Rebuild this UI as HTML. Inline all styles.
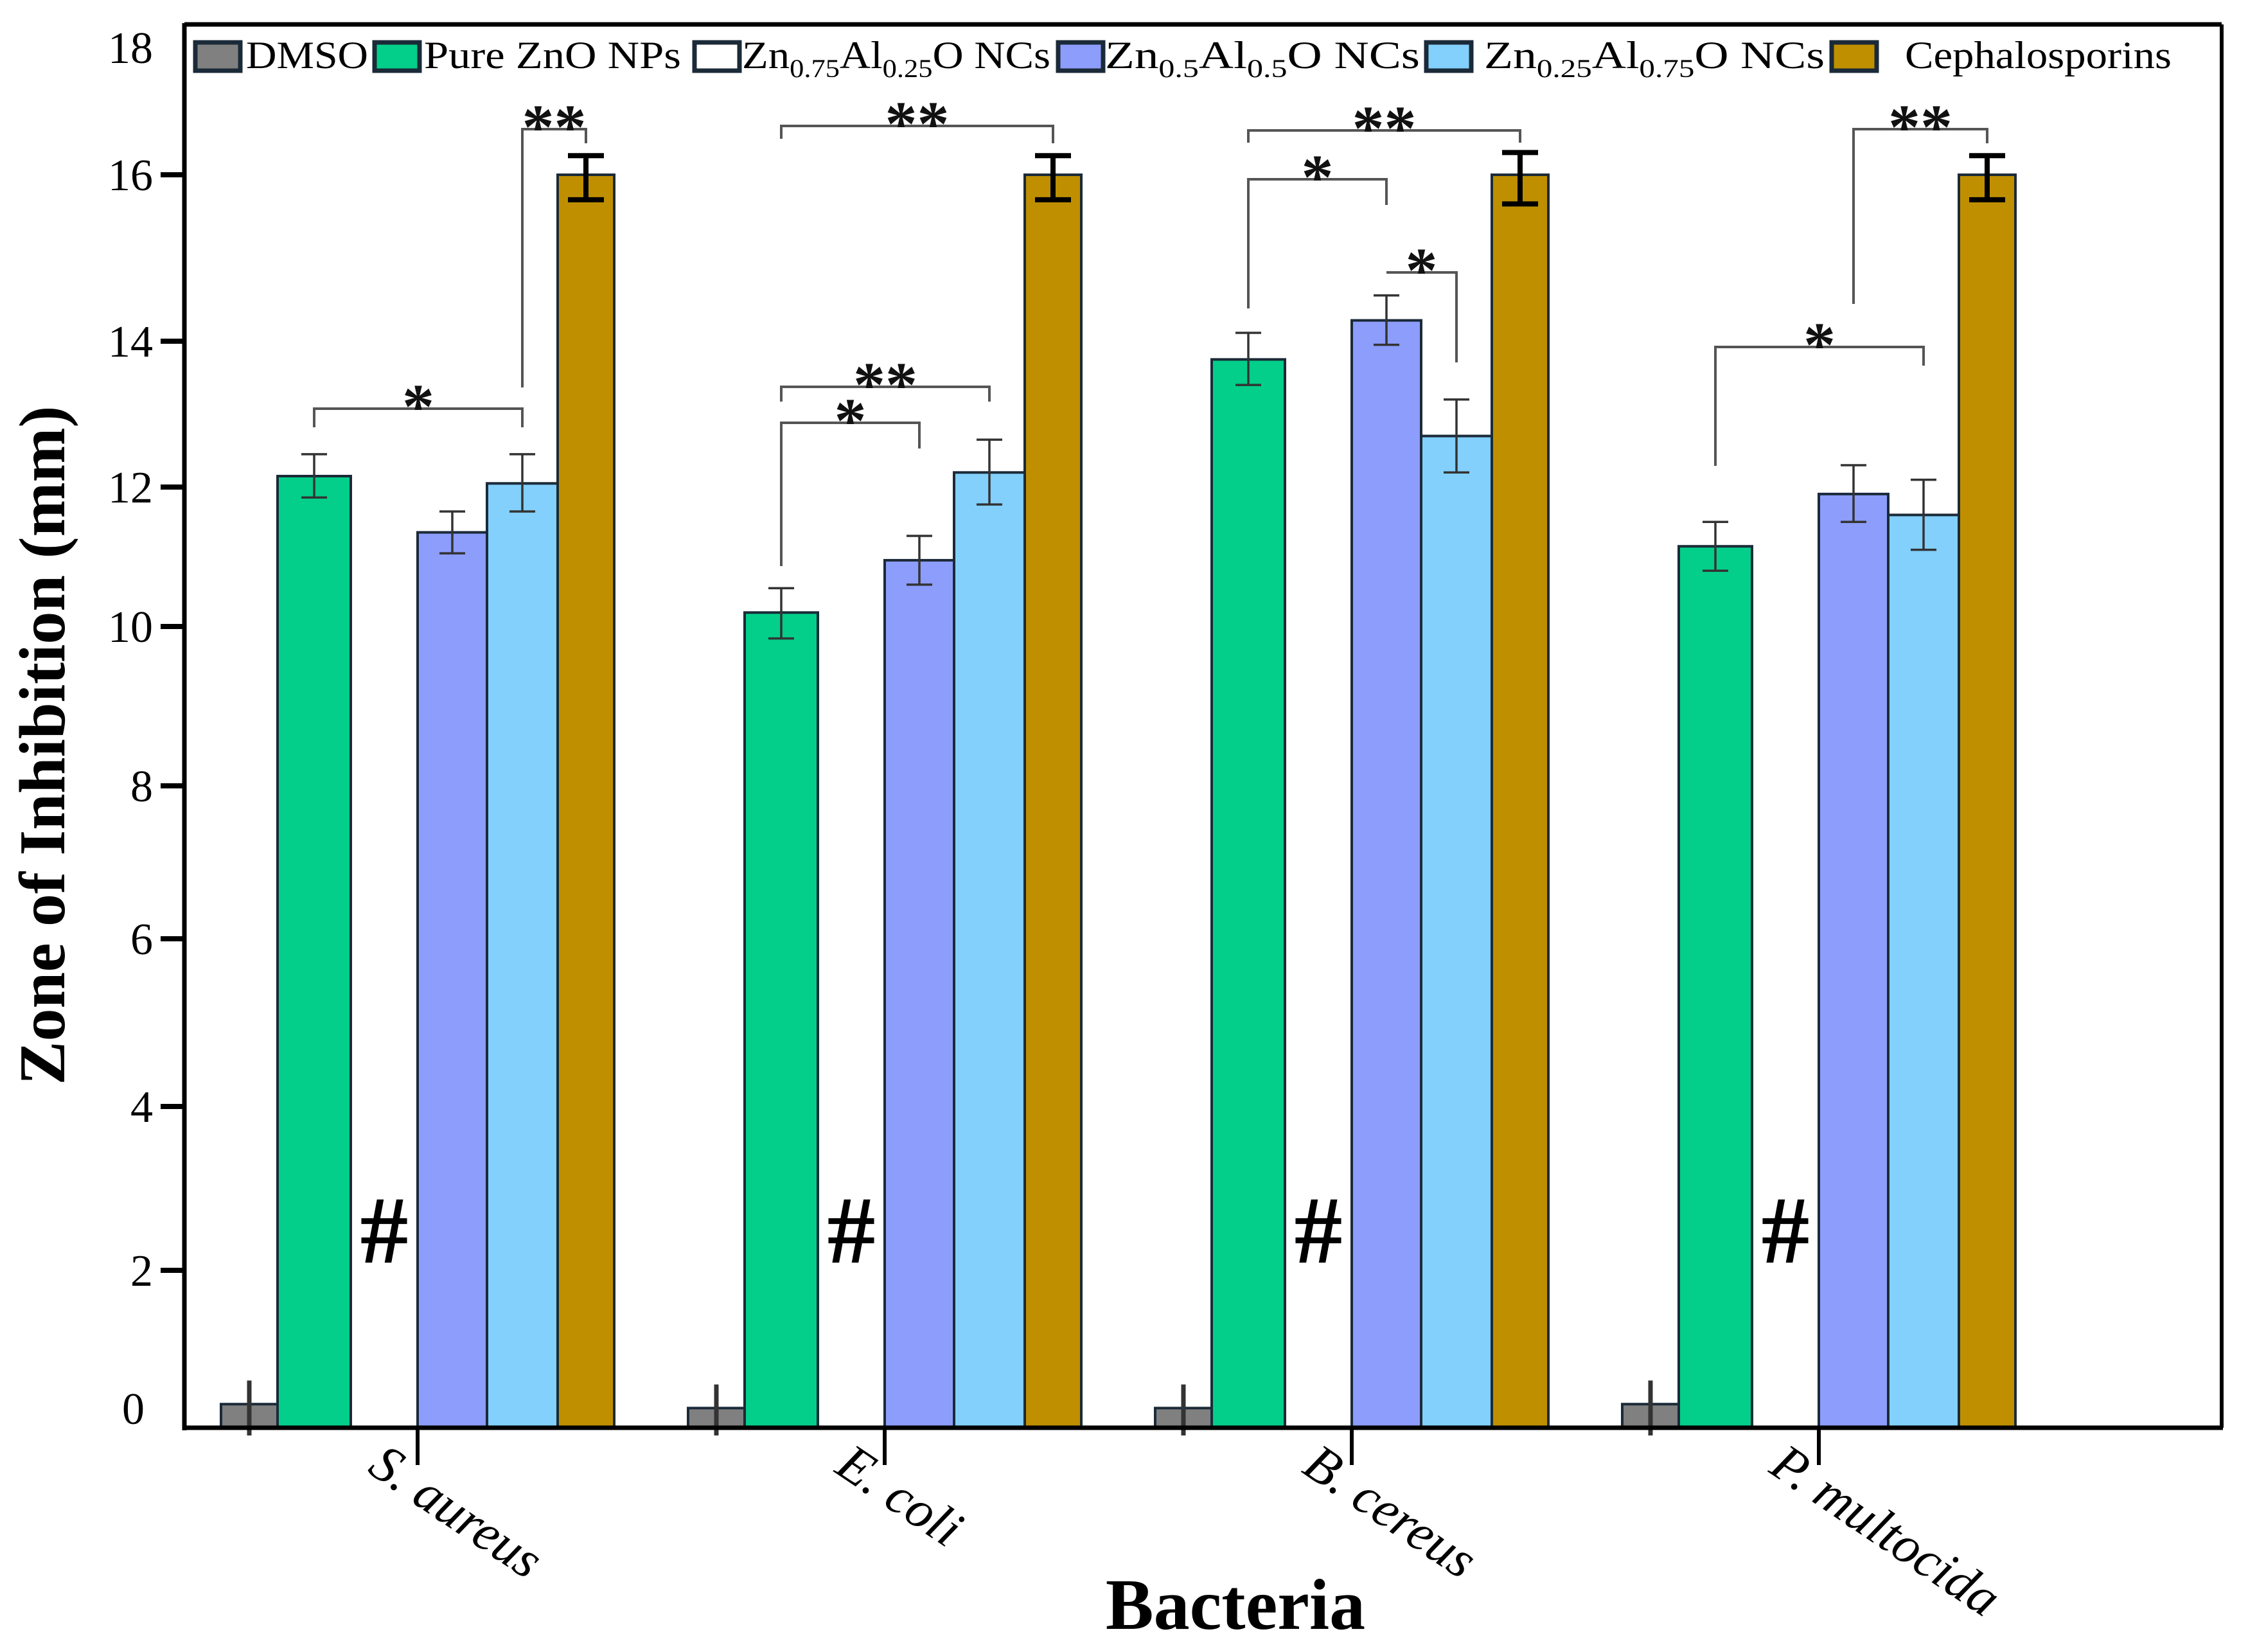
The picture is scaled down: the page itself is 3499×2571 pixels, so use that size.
<!DOCTYPE html>
<html><head><meta charset="utf-8"><style>
html,body{margin:0;padding:0;background:#fff;}
svg{display:block;}
text{font-family:"Liberation Serif",serif;}
</style></head><body>
<svg id="chart" width="3499" height="2571" viewBox="0 0 3499 2571" xmlns="http://www.w3.org/2000/svg">
<g id="plot"></g>
</svg>
<script>
const categories = ["S. aureus", "E. coli", "B. cereus", "P. multocida"];
const seriesNames = ["DMSO", "Pure ZnO NPs", "Zn0.75Al0.25O NCs", "Zn0.5Al0.5O NCs", "Zn0.25Al0.75O NCs", "Cephalosporins"];
const dmso = [0.3, 0.25, 0.25, 0.3];
const pureZnO = [12.15, 10.2, 13.75, 11.15];
const zn075 = [0, 0, 0, 0];
const zn05 = [11.35, 10.95, 14.25, 11.9];
const zn025 = [12.05, 12.2, 12.7, 11.6];
const cepha = [16, 16, 16, 16];
const dmsoErr = [0.3, 0.3, 0.3, 0.3];
const pureZnOErr = [0.3, 0.35, 0.35, 0.35];
const zn075Err = [0, 0, 0, 0];
const zn05Err = [0.3, 0.35, 0.3, 0.4];
const zn025Err = [0.4, 0.45, 0.5, 0.5];
const cephaErr = [0.3, 0.3, 0.35, 0.3];
const yTickLabels = ["0","2","4","6","8","10","12","14","16","18"];
const yTickValues = [0,2,4,6,8,10,12,14,16,18];

const svg = document.getElementById('chart');
const plot = document.getElementById('plot');
const NS = "http://www.w3.org/2000/svg";
const axisCalibV = [0,2,4,6,8,10,12,14,16,18];
const axisCalibY = [2222,1977,1722,1461,1223,975,758,531,272,74];
function yScale(v){
  for(let i=0;i<axisCalibV.length-1;i++){
    if(v<=axisCalibV[i+1]||i===axisCalibV.length-2){
      const t=(v-axisCalibV[i])/(axisCalibV[i+1]-axisCalibV[i]);
      return axisCalibY[i]+t*(axisCalibY[i+1]-axisCalibY[i]);
    }
  }
}
const groupStart=650, groupStep=727;
function xGroup(i){return groupStart+i*groupStep;}
const slotL=[-306,-218,-104,0,108,218];
const slotR=[-218,-104,0,108,218,306];
function slotCenter(g,s){return xGroup(g)+(slotL[s]+slotR[s])/2;}
function el(tag,attrs,parent){const e=document.createElementNS(NS,tag);for(const k in attrs)e.setAttribute(k,attrs[k]);(parent||plot).appendChild(e);return e;}

const colors=["#808080","#03cf8a","#ffffff","#8c9dfb","#82d0fb","#bf8f00"];
const allVals=[dmso,pureZnO,zn075,zn05,zn025,cepha];
const allErr=[dmsoErr,pureZnOErr,zn075Err,zn05Err,zn025Err,cephaErr];
const base=yScale(0);

let f=el('line',{x1:287,y1:38,x2:3458,y2:38,stroke:'#000','stroke-width':7});


f=el('line',{x1:3458,y1:38,x2:3458,y2:base,stroke:'#000','stroke-width':6});



for(let s=0;s<6;s++){
  for(let g=0;g<categories.length;g++){
    const v=allVals[s][g];
    if(v<=0) continue;
    const x=xGroup(g)+slotL[s], w=slotR[s]-slotL[s];
    const y=yScale(v);
    const r=el('rect',{x:x,y:y,width:w,height:base-y,fill:colors[s],stroke:'#1b2a38','stroke-width':4});
    
    
  }
}
for(let s=0;s<6;s++){
  for(let g=0;g<categories.length;g++){
    const v=allVals[s][g], e=allErr[s][g];
    if(v<=0) continue;
    const cx=slotCenter(g,s);
    const thick=(s===5)?8:3.5, cap=(s===5)?28:20, col=(s===5)?'#000':'#333';
    const gg=el('g',{stroke:col,'stroke-width':(s===0?7:thick)});
    
    
    const yt=yScale(v+e), yb=Math.min(yScale(v-e),base);
    el('line',{x1:cx,y1:yt,x2:cx,y2:(s===0?base+12:yb)},gg);
    if(s!==0){
      el('line',{x1:cx-cap,y1:yt,x2:cx+cap,y2:yt},gg);
      el('line',{x1:cx-cap,y1:yb,x2:cx+cap,y2:yb},gg);
    }
  }
}
let a=el('line',{x1:287,y1:36,x2:287,y2:base+4,stroke:'#000','stroke-width':7});


a=el('line',{x1:284,y1:base,x2:3460,y2:base,stroke:'#000','stroke-width':7});


for(let i=0;i<yTickValues.length;i++){
  const y=yScale(yTickValues[i]);
  if(yTickValues[i]>0&&yTickValues[i]<18){
    const t=el('line',{x1:250,y1:y,x2:287,y2:y,stroke:'#000','stroke-width':8});
    
    
  }
  const ly=(yTickValues[i]===0)?y-30:y;
  const tx=el('text',{x:(yTickValues[i]===0?225:238),y:ly+24,'text-anchor':'end','font-size':70,fill:'#000'});
  tx.textContent=yTickLabels[i];
  
  
}
for(let g=0;g<categories.length;g++){
  const x=xGroup(g);
  const t=el('line',{x1:x,y1:base,x2:x,y2:base+58,stroke:'#000','stroke-width':6});
  
  
  const tx=el('text',{x:0,y:0,'font-size':82,'font-style':'italic',fill:'#000',transform:'translate('+(x-80)+','+(base+68)+') rotate(34)'});
  tx.textContent=categories[g];
  
  
  const h=el('text',{x:slotCenter(g,2),y:1965,'text-anchor':'middle','font-size':150,'font-weight':'bold',fill:'#000'});
  h.textContent='#';
  
  
}
const brackets=[
 [0,1,4,636,665,665,'*'],[0,4,5,201,603,223,'**'],
 [1,1,5,196,216,223,'**'],[1,1,3,658,881,698,'*'],[1,1,4,602,625,625,'**'],
 [2,1,5,203,222,222,'**'],[2,1,3,279,480,319,'*'],[2,3,4,424,424,564,'*'],
 [3,3,5,201,473,223,'**'],[3,1,4,540,725,569,'*']
];
brackets.forEach(b=>{
  const x1=slotCenter(b[0],b[1]), x2=slotCenter(b[0],b[2]);
  const gg=el('g',{});
  
  
  el('polyline',{points:x1+','+b[4]+' '+x1+','+b[3]+' '+x2+','+b[3]+' '+x2+','+b[5],fill:'none',stroke:'#555','stroke-width':4},gg);
  const t=el('text',{x:(x1+x2)/2,y:b[3]+30,'text-anchor':'middle','font-size':100,'font-weight':'bold',fill:'#111'},gg);
  t.textContent=b[6];
});
const legendBox=[304,583,1081,1647,2220,2851];
const legendText=[383,660,1155,1720,2310,2965];
const legendW=[190,400,480,490,530,415];
const legendHTML=[
 ['DMSO'],['Pure ZnO NPs'],['Zn','0.75','Al','0.25','O NCs'],['Zn','0.5','Al','0.5','O NCs'],['Zn','0.25','Al','0.75','O NCs'],['Cephalosporins']
];
for(let i=0;i<6;i++){
  const gg=el('g',{});
  
  
  el('rect',{x:legendBox[i],y:66,width:70,height:44,fill:colors[i],stroke:'#1b2a38','stroke-width':7},gg);
  const t=el('text',{x:legendText[i],y:106,'font-size':60,fill:'#000',textLength:legendW[i],lengthAdjust:'spacingAndGlyphs'},gg);
  const parts=legendHTML[i];
  parts.forEach((p,k)=>{
    const ts=document.createElementNS(NS,'tspan');
    if(k%2===1){ts.setAttribute('font-size','40');ts.setAttribute('dy','14');}
    else if(k>0){ts.setAttribute('dy','-14');}
    ts.textContent=p;t.appendChild(ts);
  });
}
let yt=el('text',{x:0,y:0,'text-anchor':'middle','font-size':102,'font-weight':'bold',fill:'#000',transform:'translate(100,1160) rotate(-90)'});
yt.textContent='Zone of Inhibition (mm)';


let xt=el('text',{x:1923,y:2535,'text-anchor':'middle','font-size':112,'font-weight':'bold',fill:'#000'});
xt.textContent='Bacteria';


</script>
</body></html>
